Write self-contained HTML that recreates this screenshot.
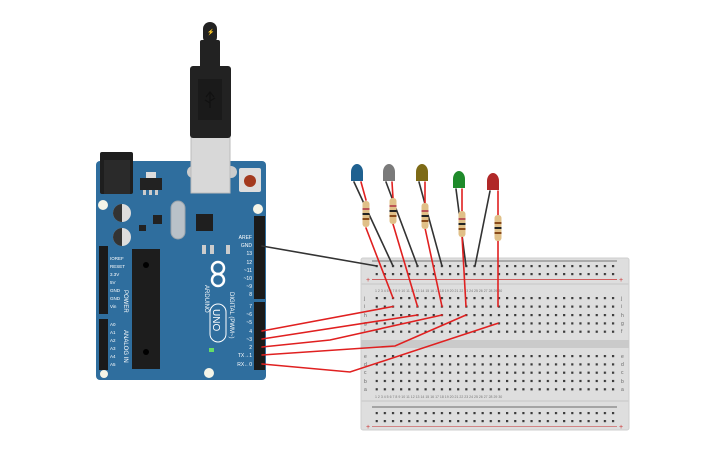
<!DOCTYPE html>
<html><head><meta charset="utf-8"><style>
html,body{margin:0;padding:0;background:#fff;}
svg{display:block;font-family:"Liberation Sans",sans-serif;}
</style></head><body>
<svg width="725" height="453" viewBox="0 0 725 453" xmlns="http://www.w3.org/2000/svg">
<defs>
<pattern id="h" x="375.6" y="0" width="8.15" height="1" patternUnits="userSpaceOnUse">
<rect x="0" y="0" width="2.2" height="1" fill="#3a3a3a"/>
</pattern>
</defs>
<!-- Breadboard -->
<rect x="361" y="258" width="268" height="172" rx="2" fill="#dedede" stroke="#cfcfcf"/>
<rect x="361" y="340" width="268" height="8" fill="#cacaca"/>
<rect x="361" y="283" width="268" height="2" fill="#d2d2d2"/>
<rect x="361" y="400" width="268" height="2" fill="#d2d2d2"/>
<line x1="372" y1="261" x2="617" y2="261" stroke="#555" stroke-width="0.8"/>
<line x1="372" y1="279.5" x2="617" y2="279.5" stroke="#c33" stroke-width="0.8"/>
<line x1="372" y1="407" x2="617" y2="407" stroke="#444" stroke-width="0.8"/>
<line x1="372" y1="426.5" x2="617" y2="426.5" stroke="#c66" stroke-width="0.8"/>
<text x="366" y="282" font-size="7" fill="#c33">+</text><text x="619" y="282" font-size="7" fill="#c33">+</text>
<text x="366" y="429" font-size="7" fill="#c33">+</text><text x="619" y="429" font-size="7" fill="#c33">+</text>
<g fill="url(#h)">
<rect x="375.6" y="265" width="240" height="2.2"/>
<rect x="375.6" y="273" width="240" height="2.2"/>
<rect x="375.6" y="297" width="240" height="2.2"/>
<rect x="375.6" y="305.5" width="240" height="2.2"/>
<rect x="375.6" y="314" width="240" height="2.2"/>
<rect x="375.6" y="322.3" width="240" height="2.2"/>
<rect x="375.6" y="330.6" width="240" height="2.2"/>
<rect x="375.6" y="355" width="240" height="2.2"/>
<rect x="375.6" y="363.3" width="240" height="2.2"/>
<rect x="375.6" y="371.6" width="240" height="2.2"/>
<rect x="375.6" y="379.9" width="240" height="2.2"/>
<rect x="375.6" y="388.2" width="240" height="2.2"/>
<rect x="375.6" y="412" width="240" height="2.2"/>
<rect x="375.6" y="420" width="240" height="2.2"/>
</g>
<g font-size="5" fill="#666">
<text x="364" y="300">j</text><text x="364" y="308">i</text><text x="364" y="317">h</text><text x="364" y="325">g</text><text x="364" y="333">f</text>
<text x="364" y="358">e</text><text x="364" y="366">d</text><text x="364" y="374">c</text><text x="364" y="383">b</text><text x="364" y="391">a</text>
<text x="621" y="300">j</text><text x="621" y="308">i</text><text x="621" y="317">h</text><text x="621" y="325">g</text><text x="621" y="333">f</text>
<text x="621" y="358">e</text><text x="621" y="366">d</text><text x="621" y="374">c</text><text x="621" y="383">b</text><text x="621" y="391">a</text>
</g>
<g font-size="3.5" fill="#777">
<text x="375" y="292">1 2 3 4 5 6 7 8 9 10 11 12 13 14 15 16 17 18 19 20 21 22 23 24 25 26 27 28 29 30</text>
<text x="375" y="398">1 2 3 4 5 6 7 8 9 10 11 12 13 14 15 16 17 18 19 20 21 22 23 24 25 26 27 28 29 30</text>
</g>
<!-- Arduino -->
<rect x="96" y="161" width="170" height="219" rx="4" fill="#2f6e9e"/>
<rect x="100" y="152" width="33" height="42" rx="2" fill="#1e1e1e"/>
<rect x="104" y="160" width="26" height="34" fill="#2a2a2a"/>
<rect x="140" y="178" width="22" height="12" fill="#222"/>
<rect x="146" y="172" width="10" height="6" fill="#ddd"/>
<rect x="143" y="190" width="3" height="5" fill="#ccc"/><rect x="149" y="190" width="3" height="5" fill="#ccc"/><rect x="155" y="190" width="3" height="5" fill="#ccc"/>
<circle cx="122" cy="213" r="9" fill="#ddd"/><path d="M122 204 A9 9 0 0 0 122 222 Z" fill="#333"/>
<circle cx="122" cy="237" r="9" fill="#ddd"/><path d="M122 228 A9 9 0 0 0 122 246 Z" fill="#333"/>
<rect x="171" y="201" width="14" height="38" rx="7" fill="#b9c1c8" stroke="#9aa3ab"/>
<rect x="153" y="215" width="9" height="9" fill="#222"/>
<rect x="139" y="225" width="7" height="6" fill="#222"/>
<rect x="196" y="214" width="17" height="17" fill="#1f1f1f"/>
<rect x="132" y="249" width="28" height="120" fill="#1d1d1d"/>
<circle cx="146" cy="265" r="3" fill="#000"/><circle cx="146" cy="352" r="3" fill="#000"/>
<rect x="202" y="245" width="4" height="9" fill="#ccc"/><rect x="210" y="245" width="4" height="9" fill="#ccc"/><rect x="226" y="245" width="4" height="9" fill="#ccc"/>
<circle cx="103" cy="205" r="5" fill="#f5f5e8"/><circle cx="258" cy="209" r="5" fill="#f5f5e8"/><circle cx="209" cy="373" r="5" fill="#f5f5e8"/><circle cx="104" cy="374" r="4" fill="#f5f5e8"/>
<!-- USB -->
<circle cx="193" cy="172" r="6" fill="#ccc"/><circle cx="231" cy="172" r="6" fill="#ccc"/>
<rect x="191" y="137" width="39" height="56" fill="#d8d8d8" stroke="#bbb"/>
<rect x="239" y="168" width="22" height="24" rx="2" fill="#ddd"/>
<circle cx="250" cy="181" r="6" fill="#a33a1e"/>
<rect x="190" y="66" width="41" height="72" rx="3" fill="#222"/>
<rect x="198" y="79" width="24" height="41" fill="#1a1a1a"/>
<rect x="200" y="40" width="20" height="28" rx="2" fill="#222"/>
<rect x="203" y="22" width="14" height="22" rx="7" fill="#222"/>
<text x="207" y="34" font-size="6" fill="#dd0">⚡</text>
<path d="M210 93 V108 M206 97 L210 92 L214 97 M210 103 L205 100 M210 101 L215 98" stroke="#111" stroke-width="1.2" fill="none"/>
<!-- headers -->
<g fill="#1a1a1a"><rect x="254" y="216" width="11" height="83"/><rect x="254" y="302" width="11" height="68"/>
<rect x="99" y="246" width="9" height="68"/><rect x="99" y="319" width="9" height="51"/></g>
<g font-size="5" fill="#fff" text-anchor="end">
<text x="252" y="239">AREF</text><text x="252" y="247">GND</text><text x="252" y="255">13</text><text x="252" y="264">12</text><text x="252" y="272">~11</text><text x="252" y="280">~10</text><text x="252" y="288">~9</text><text x="252" y="296">8</text>
<text x="252" y="308">7</text><text x="252" y="316">~6</text><text x="252" y="324">~5</text><text x="252" y="333">4</text><text x="252" y="341">~3</text><text x="252" y="349">2</text><text x="252" y="357">TX→1</text><text x="252" y="366">RX←0</text>
</g>
<g font-size="4.5" fill="#fff">
<text x="110" y="260">IOREF</text><text x="110" y="268">RESET</text><text x="110" y="276">3.3V</text><text x="110" y="284">5V</text><text x="110" y="292">GND</text><text x="110" y="300">GND</text><text x="110" y="308">Vin</text>
<text x="110" y="326">A0</text><text x="110" y="334">A1</text><text x="110" y="342">A2</text><text x="110" y="350">A3</text><text x="110" y="358">A4</text><text x="110" y="366">A5</text>
</g>
<text font-size="6" fill="#fff" transform="translate(230,292) rotate(90)">DIGITAL (PWM~)</text>
<text font-size="6" fill="#fff" transform="translate(205,285) rotate(90)">ARDUINO</text>
<text font-size="6" fill="#fff" transform="translate(124,290) rotate(90)">POWER</text>
<text font-size="6" fill="#fff" transform="translate(124,330) rotate(90)">ANALOG IN</text>
<g fill="none" stroke="#fff" stroke-width="2.5"><circle cx="218" cy="268" r="6"/><circle cx="218" cy="280" r="6"/></g>
<rect x="210" y="304" width="16" height="38" rx="8" fill="none" stroke="#fff" stroke-width="1"/>
<text font-size="10" fill="#fff" transform="translate(213,309) rotate(90)">UNO</text>
<rect x="209" y="348" width="5" height="4" fill="#6d6"/>
<!-- LEDs -->
<g>
<ellipse cx="357" cy="172" rx="6" ry="8" fill="#1f6190"/><rect x="351" y="172" width="12" height="9" fill="#1f6190"/>
<ellipse cx="389" cy="172" rx="6" ry="8" fill="#7a7a7a"/><rect x="383" y="172" width="12" height="9" fill="#7a7a7a"/>
<ellipse cx="422" cy="172" rx="6" ry="8" fill="#7d6a16"/><rect x="416" y="172" width="12" height="9" fill="#7d6a16"/>
<ellipse cx="459" cy="179" rx="6" ry="8" fill="#1e8a2a"/><rect x="453" y="179" width="12" height="9" fill="#1e8a2a"/>
<ellipse cx="493" cy="181" rx="6" ry="8" fill="#b02828"/><rect x="487" y="181" width="12" height="9" fill="#b02828"/>
</g>
<g stroke-width="1.6" fill="none" stroke-linecap="round">
<g stroke="#333">
<path d="M262 246 L376.7 266"/>
<path d="M354 182 L393 266"/>
<path d="M386 182 L417.5 266"/>
<path d="M419 182 L442 266"/>
<path d="M456 189 L466 266"/>
<path d="M490 191 L475 266"/>
</g>
<g stroke="#e02020">
<path d="M361 182 L366 200 M366 228 L393 298"/>
<path d="M392 182 L393 198 M393 224 L417.5 306.5"/>
<path d="M425 182 L425 204 M425 228 L442 306.5"/>
<path d="M462 189 L462 212 M462 236 L466 306.5"/>
<path d="M498 191 L498 218 M498 238 L498 306.5"/>
<path d="M262 331 L393 306.5"/>
<path d="M262 339 L417.5 315"/>
<path d="M262 347 L330 340 L442 315"/>
<path d="M262 355 L395 346 L466 315"/>
<path d="M262 364 L350 372 L498 323.3"/>
</g>
</g>
<!-- resistors -->
<g>
<g transform="translate(366,214)"><rect x="-3.5" y="-13" width="7" height="26" rx="3" fill="#e0c088"/><rect x="-3.5" y="-6" width="7" height="2" fill="#b55"/><rect x="-3.5" y="-1" width="7" height="2" fill="#222"/><rect x="-3.5" y="4" width="7" height="2" fill="#8a4b1a"/></g>
<g transform="translate(393,211)"><rect x="-3.5" y="-13" width="7" height="26" rx="3" fill="#e0c088"/><rect x="-3.5" y="-6" width="7" height="2" fill="#b55"/><rect x="-3.5" y="-1" width="7" height="2" fill="#222"/><rect x="-3.5" y="4" width="7" height="2" fill="#8a4b1a"/></g>
<g transform="translate(425,216)"><rect x="-3.5" y="-13" width="7" height="26" rx="3" fill="#e0c088"/><rect x="-3.5" y="-6" width="7" height="2" fill="#b55"/><rect x="-3.5" y="-1" width="7" height="2" fill="#222"/><rect x="-3.5" y="4" width="7" height="2" fill="#8a4b1a"/></g>
<g transform="translate(462,224)"><rect x="-3.5" y="-13" width="7" height="26" rx="3" fill="#e0c088"/><rect x="-3.5" y="-6" width="7" height="2" fill="#b55"/><rect x="-3.5" y="-1" width="7" height="2" fill="#222"/><rect x="-3.5" y="4" width="7" height="2" fill="#8a4b1a"/></g>
<g transform="translate(498,228)"><rect x="-3.5" y="-13" width="7" height="26" rx="3" fill="#e0c088"/><rect x="-3.5" y="-6" width="7" height="2" fill="#8a4b1a"/><rect x="-3.5" y="-1" width="7" height="2" fill="#222"/><rect x="-3.5" y="4" width="7" height="2" fill="#8a4b1a"/></g>
</g>
</svg>
</body></html>
